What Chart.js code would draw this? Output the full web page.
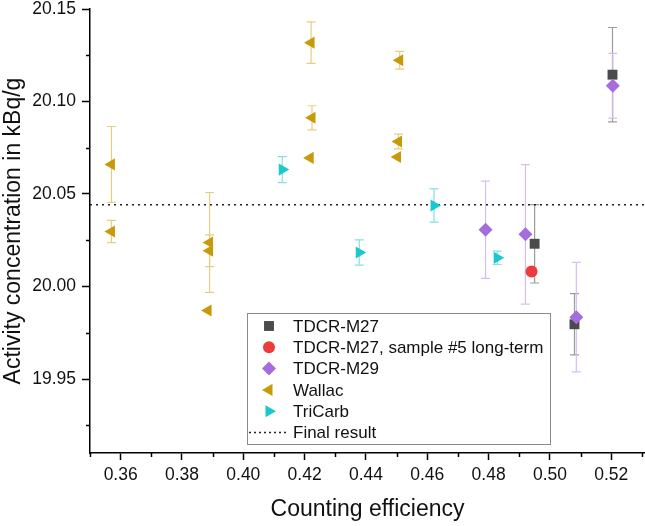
<!DOCTYPE html>
<html>
<head>
<meta charset="utf-8">
<script src="https://cdn.jsdelivr.net/npm/chart.js@4.4.1/dist/chart.umd.min.js"></script>
<style>
  html, body { margin: 0; padding: 0; background: #fff; }
  #wrap { width: 645px; height: 526px; }
</style>
</head>
<body>
<div id="wrap"><canvas id="chart" width="645" height="526"></canvas></div>
<script>
// data
const m27_x   = [0.5204, 0.4950, 0.5080];
const m27_y   = [20.1145, 20.0231, 19.9796];
const m27_err = [0.0255, 0.0212, 0.0166];

const m27s5_x   = [0.4940];
const m27s5_y   = [20.0081];
const m27s5_err = [0];

const m29_x   = [0.4790, 0.4920, 0.5205, 0.5086];
const m29_y   = [20.0307, 20.0282, 20.1085, 19.9834];
const m29_err = [0.0263, 0.0377, 0.0175, 0.0296];

const wallac_x   = [0.3570, 0.3570, 0.3890, 0.3890, 0.3885, 0.4221, 0.4224, 0.4218, 0.4510, 0.4506, 0.4503];
const wallac_y   = [20.0660, 20.0297, 20.0238, 20.0193, 19.9870, 20.1318, 20.0912, 20.0695, 20.1223, 20.0784, 20.0700];
const wallac_err = [0.0205, 0.0060, 0.0270, 0.0086, 0, 0.0112, 0.0065, 0, 0.0048, 0.0040, 0];

const tricarb_x   = [0.4127, 0.4378, 0.4622, 0.4828];
const tricarb_y   = [20.0632, 20.0184, 20.0438, 20.0155];
const tricarb_err = [0.0070, 0.0068, 0.0090, 0.0036];

const final_result = 20.0442;

const x_ticks = [0.36, 0.38, 0.40, 0.42, 0.44, 0.46, 0.48, 0.50, 0.52];
const x_minor = [0.35, 0.37, 0.39, 0.41, 0.43, 0.45, 0.47, 0.49, 0.51, 0.53];
const y_ticks = [19.95, 20.00, 20.05, 20.10, 20.15];
const y_minor = [19.925, 19.975, 20.025, 20.075, 20.125];

const X_MIN = 0.35, X_MAX = 0.531;
const Y_MIN = 19.91, Y_MAX = 20.15;

const FONT = '"Liberation Sans", Arial, sans-serif';

function pts(xs, ys) {
	return xs.map((x, i) => ({ x: x, y: ys[i] }));
}

function series(label, xs, ys, errs, style) {
	return Object.assign({
		label: label,
		data: pts(xs, ys),
		errors: errs,
		showLine: false,
		borderWidth: 0,
		pointBorderWidth: 0,
		pointRadius: 7
	}, style);
}

const datasets = [
	series('TDCR-M27', m27_x, m27_y, m27_err, {
		pointStyle: 'rect', backgroundColor: '#4b4b4b', errColor: '#9c9c9c', order: 1
	}),
	series('TDCR-M27, sample #5 long-term', m27s5_x, m27s5_y, m27s5_err, {
		pointStyle: 'circle', pointRadius: 6, backgroundColor: '#ee3b3b', errColor: '#f4a0a0', order: 0
	}),
	series('TDCR-M29', m29_x, m29_y, m29_err, {
		pointStyle: 'rectRot', backgroundColor: '#a56ddc', errColor: '#d6bdf0', order: 0
	}),
	series('Wallac', wallac_x, wallac_y, wallac_err, {
		pointStyle: 'triangle', rotation: -90, backgroundColor: '#c99a08', errColor: '#e6cd85', order: 2
	}),
	series('TriCarb', tricarb_x, tricarb_y, tricarb_err, {
		pointStyle: 'triangle', rotation: 90, backgroundColor: '#1cc8cc', errColor: '#86dfe3', order: 2
	}),
	{
		label: 'Final result',
		data: [{ x: X_MIN, y: final_result }, { x: X_MAX, y: final_result }],
		showLine: true,
		borderColor: '#222',
		borderWidth: 1.6,
		borderDash: [2, 4],
		pointRadius: 0,
		order: 3
	}
];

// error bars, drawn under the markers
const errorBars = {
	id: 'errorBars',
	beforeDatasetsDraw(chart) {
		const ctx = chart.ctx;
		const xs = chart.scales.x, ys = chart.scales.y;
		ctx.save();
		chart.data.datasets.forEach(ds => {
			if (!ds.errors) return;
			ctx.strokeStyle = ds.errColor;
			ctx.lineWidth = 1.2;
			ds.data.forEach((p, i) => {
				const e = ds.errors[i];
				if (!e) return;
				const px = xs.getPixelForValue(p.x);
				const top = ys.getPixelForValue(p.y + e);
				const bot = ys.getPixelForValue(p.y - e);
				ctx.beginPath();
				ctx.moveTo(px, top); ctx.lineTo(px, bot);
				ctx.moveTo(px - 4.5, top); ctx.lineTo(px + 4.5, top);
				ctx.moveTo(px - 4.5, bot); ctx.lineTo(px + 4.5, bot);
				ctx.stroke();
			});
		});
		ctx.restore();
	}
};

// minor ticks (Chart.js has only one tick length)
const minorTicks = {
	id: 'minorTicks',
	afterDraw(chart) {
		const ctx = chart.ctx;
		const xs = chart.scales.x, ys = chart.scales.y;
		const area = chart.chartArea;
		ctx.save();
		ctx.strokeStyle = '#000';
		ctx.lineWidth = 1.5;
		ctx.beginPath();
		x_minor.forEach(v => {
			const px = Math.round(xs.getPixelForValue(v)) + 0.5;
			ctx.moveTo(px, area.bottom); ctx.lineTo(px, area.bottom + 4);
		});
		y_minor.forEach(v => {
			const py = Math.round(ys.getPixelForValue(v)) + 0.5;
			ctx.moveTo(area.left, py); ctx.lineTo(area.left - 4, py);
		});
		ctx.stroke();
		ctx.restore();
	}
};

// legend box inside the plot
const boxLegend = {
	id: 'boxLegend',
	afterDraw(chart) {
		const ctx = chart.ctx;
		const area = chart.chartArea;
		const bx = area.left + 157, by = 313, bw = 303, bh = 131;
		const rowH = 21.3;
		ctx.save();
		ctx.fillStyle = '#fff';
		ctx.fillRect(bx, by, bw, bh);
		ctx.strokeStyle = '#8a8a8a';
		ctx.lineWidth = 1;
		ctx.strokeRect(bx + 0.5, by + 0.5, bw, bh);
		ctx.font = '17px ' + FONT;
		ctx.textBaseline = 'middle';
		chart.data.datasets.forEach((ds, i) => {
			const cy = by + 13 + i * rowH;
			const sx = bx + 22;
			if (ds.showLine) {
				ctx.strokeStyle = ds.borderColor;
				ctx.lineWidth = 1.4;
				ctx.setLineDash([2, 3]);
				ctx.beginPath();
				ctx.moveTo(bx + 2, cy); ctx.lineTo(bx + 41, cy);
				ctx.stroke();
				ctx.setLineDash([]);
			} else {
				ctx.fillStyle = ds.backgroundColor;
				ctx.strokeStyle = ds.backgroundColor;
				Chart.helpers.drawPoint(ctx, {
					pointStyle: ds.pointStyle,
					rotation: ds.rotation || 0,
					radius: ds.pointRadius,
					borderWidth: 0
				}, sx, cy);
			}
			ctx.fillStyle = '#111';
			ctx.fillText(ds.label, bx + 46, cy + 1);
		});
		ctx.restore();
	}
};

new Chart(document.getElementById('chart'), {
	type: 'scatter',
	data: { datasets: datasets },
	plugins: [errorBars, minorTicks, boxLegend],
	options: {
		responsive: false,
		animation: false,
		layout: { autoPadding: false, padding: { top: 9, right: 0, left: 0, bottom: 0 } },
		plugins: {
			legend: { display: false },
			tooltip: { enabled: false }
		},
		scales: {
			x: {
				type: 'linear',
				min: X_MIN,
				max: X_MAX,
				afterBuildTicks: (scale) => { scale.ticks = x_ticks.map(v => ({ value: v })); },
				afterFit: (scale) => {
					scale.height = 73;
					scale.paddingLeft = 0;
					scale.paddingRight = 0;
				},
				ticks: {
					color: '#111',
					padding: 5,
					font: { family: FONT, size: 17.5 },
					callback: (v) => v.toFixed(2)
				},
				grid: { drawOnChartArea: false, tickLength: 7, tickColor: '#000', tickWidth: 1.5 },
				border: { color: '#000', width: 1.5 },
				title: {
					display: true,
					text: 'Counting efficiency',
					color: '#111',
					font: { family: FONT, size: 23 },
					padding: { top: 3, bottom: 3 }
				}
			},
			y: {
				type: 'linear',
				min: Y_MIN,
				max: Y_MAX,
				afterBuildTicks: (scale) => { scale.ticks = y_ticks.map(v => ({ value: v })); },
				afterFit: (scale) => {
					scale.width = 90;
					scale.paddingTop = 0;
					scale.paddingBottom = 0;
				},
				ticks: {
					color: '#111',
					padding: 6,
					font: { family: FONT, size: 17.5 },
					callback: (v) => v.toFixed(2)
				},
				grid: { drawOnChartArea: false, tickLength: 8, tickColor: '#000', tickWidth: 1.5 },
				border: { color: '#000', width: 1.5 },
				title: {
					display: true,
					text: 'Activity concentration in kBq/g',
					color: '#111',
					font: { family: FONT, size: 23 },
					padding: { top: 0, bottom: 0 }
				}
			}
		}
	}
});
</script>
</body>
</html>
